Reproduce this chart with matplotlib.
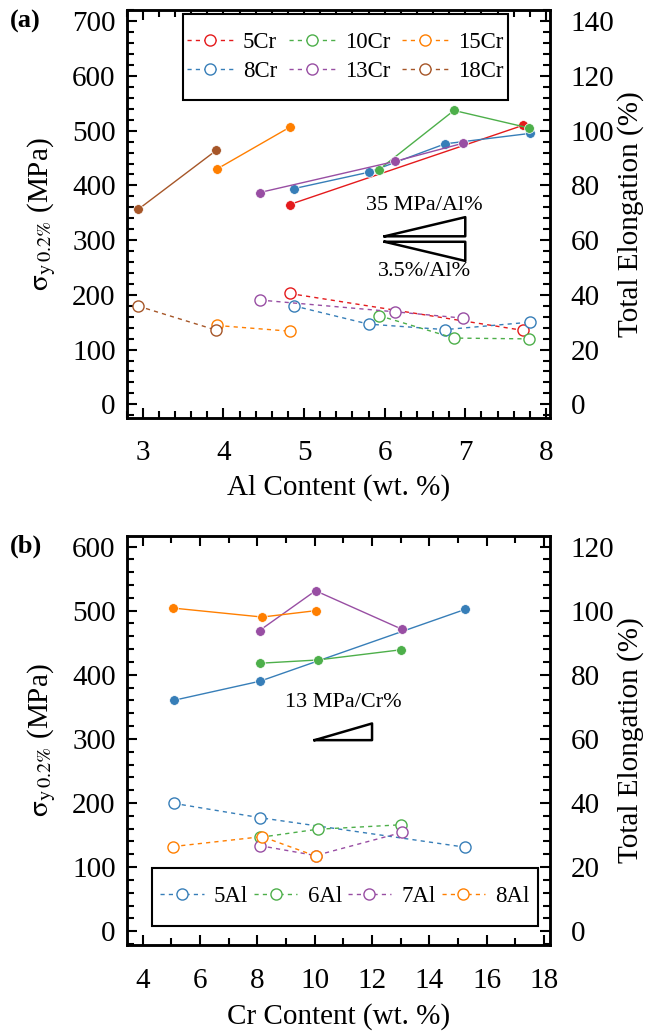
import numpy as np
import matplotlib
matplotlib.use("Agg")
import matplotlib.pyplot as plt
from matplotlib.ticker import MultipleLocator
from matplotlib.patches import Rectangle

plt.rcParams['font.family'] = ['Liberation Serif', 'DejaVu Serif']
plt.rcParams['mathtext.fontset'] = 'stix'

# ---- panel (a): vs Al content, one series per Cr level ----
cr_names = ['5Cr', '8Cr', '10Cr', '13Cr', '15Cr', '18Cr']
cr_colors = ['#e41a1c', '#377eb8', '#4daf4a', '#984ea3', '#ff7f00', '#a65628']
al_x = {
    '5Cr': [4.82, 7.72],
    '8Cr': [4.87, 5.80, 6.75, 7.80],
    '10Cr': [5.93, 6.86, 7.79],
    '13Cr': [4.45, 6.13, 6.97],
    '15Cr': [3.92, 4.83],
    '18Cr': [2.94, 3.91],
}
al_ys = {
    '5Cr': [365, 510],
    '8Cr': [394, 424, 476, 495],
    '10Cr': [429, 537, 505],
    '13Cr': [387, 444, 477],
    '15Cr': [430, 507],
    '18Cr': [356, 464],
}
al_el = {
    '5Cr': [40.5, 27.0],
    '8Cr': [36.0, 29.3, 27.3, 30.0],
    '10Cr': [32.4, 24.2, 23.9],
    '13Cr': [38.1, 33.8, 31.5],
    '15Cr': [28.8, 26.7],
    '18Cr': [35.9, 27.1],
}

# ---- panel (b): vs Cr content, one series per Al level ----
al_names = ['5Al', '6Al', '7Al', '8Al']
al_colors = ['#377eb8', '#4daf4a', '#984ea3', '#ff7f00']
cr_x = {
    '5Al': [5.08, 8.10, 15.25],
    '6Al': [8.11, 10.1, 13.02],
    '7Al': [8.08, 10.03, 13.04],
    '8Al': [5.06, 8.17, 10.05],
}
cr_ys = {
    '5Al': [360, 390, 502],
    '6Al': [418, 423, 439],
    '7Al': [469, 531, 471],
    '8Al': [504, 490, 500],
}
cr_el = {
    '5Al': [39.9, 35.4, 26.2],
    '6Al': [29.3, 31.8, 33.2],
    '7Al': [26.7, 23.6, 30.8],
    '8Al': [26.4, 29.5, 23.4],
}

FS = 21
dash = (0, (3, 3))


def style_axes(ax, ax2, xmaj, xmin, ymaj, ymin, y2maj, y2min):
    ax.xaxis.set_major_locator(MultipleLocator(xmaj))
    ax.xaxis.set_minor_locator(MultipleLocator(xmin))
    ax.yaxis.set_major_locator(MultipleLocator(ymaj))
    ax.yaxis.set_minor_locator(MultipleLocator(ymin))
    ax2.yaxis.set_major_locator(MultipleLocator(y2maj))
    ax2.yaxis.set_minor_locator(MultipleLocator(y2min))
    ax.tick_params(axis='x', which='both', direction='in', top=True, labelsize=FS, pad=16)
    ax.tick_params(axis='y', which='both', direction='in', right=False, labelsize=FS, pad=8)
    ax2.tick_params(axis='y', which='both', direction='in', labelsize=FS, pad=15)
    for a in (ax, ax2):
        a.tick_params(which='major', length=7, width=1.5)
        a.tick_params(which='minor', length=5, width=1.5)
        for s in a.spines.values():
            s.set_linewidth(1.8)


def boxed_legend(ax, handles, labels, rect, ncol, **kw):
    x0, y0, w, h = rect
    ax.add_patch(Rectangle((x0, y0), w, h, transform=ax.transAxes, facecolor='white',
                           edgecolor='black', lw=1.5, zorder=5, clip_on=False))
    leg = ax.legend(handles, labels, ncol=ncol, fontsize=16.5, loc='center',
                    bbox_to_anchor=(x0 + w / 2, y0 + h / 2), frameon=False, **kw)
    leg.set_zorder(6)
    return leg


fig = plt.figure(figsize=(6.5, 10.32), dpi=100)

# panel (a)
ax = fig.add_axes([0.195, 0.595, 0.651, 0.395])
ax2 = ax.twinx()
for name, c in zip(cr_names, cr_colors):
    ax.plot(al_x[name], al_ys[name], '-', color=c, lw=1.0, marker='o', ms=7,
            mec='white', mew=0.5)
    ax2.plot(al_x[name], al_el[name], linestyle=dash, color=c, lw=1.0, marker='o',
             ms=8, mfc='white', mec=c, mew=1.0, label=name)
ax.set_xlim(2.8, 8.05)
ax.set_ylim(-25, 720)
ax2.set_ylim(-5, 144)
style_axes(ax, ax2, 1, 0.2, 100, 20, 20, 4)
ax.set_xlabel('Al Content (wt. %)', fontsize=FS, labelpad=6)
ax.set_ylabel(r'$\mathrm{\sigma_{y\,0.2\%}}$ (MPa)', fontsize=FS, labelpad=10)
ax2.set_ylabel('Total Elongation (%)', fontsize=FS, labelpad=2)

# slope triangles
ax.plot([6, 7, 7, 6], [307, 342, 307, 307], color='black', lw=1.8)
ax.plot([6, 7, 7, 6], [297, 297, 262, 297], color='black', lw=1.8)
ax.text(6.49, 364, '35 MPa/Al%', fontsize=16, ha='center', va='center')
ax.text(6.49, 242, '3.5%/Al%', fontsize=16, ha='center', va='center')

h, l = ax2.get_legend_handles_labels()
boxed_legend(ax2, h, l, (0.132, 0.781, 0.768, 0.211), 3,
             handlelength=2.0, handletextpad=0.45, columnspacing=0.5,
             labelspacing=0.35)
fig.text(0.015, 0.979, '(a)', fontsize=19, fontweight='bold', ha='left', va='center')

# panel (b)
bx = fig.add_axes([0.195, 0.084, 0.651, 0.397])
bx2 = bx.twinx()
for name, c in zip(al_names, al_colors):
    bx.plot(cr_x[name], cr_ys[name], '-', color=c, lw=1.0, marker='o', ms=7,
            mec='white', mew=0.5)
    bx2.plot(cr_x[name], cr_el[name], linestyle=dash, color=c, lw=1.0, marker='o',
             ms=8, mfc='white', mec=c, mew=1.0, label=name)
bx.set_xlim(3.45, 18.2)
bx.set_ylim(-22, 617)
bx2.set_ylim(-4.4, 123.4)
style_axes(bx, bx2, 2, 1, 100, 20, 20, 4)
bx.set_xlabel('Cr Content (wt. %)', fontsize=FS, labelpad=7)
bx.set_ylabel(r'$\mathrm{\sigma_{y\,0.2\%}}$ (MPa)', fontsize=FS, labelpad=10)
bx2.set_ylabel('Total Elongation (%)', fontsize=FS, labelpad=2)

bx.plot([10, 12, 12, 10], [298, 324, 298, 298], color='black', lw=1.8)
bx.text(11.0, 357, '13 MPa/Cr%', fontsize=16, ha='center', va='center')

h, l = bx2.get_legend_handles_labels()
boxed_legend(bx2, h, l, (0.06, 0.047, 0.911, 0.142), 4,
             handlelength=1.9, handletextpad=0.45, columnspacing=0.25)
fig.text(0.015, 0.471, '(b)', fontsize=19, fontweight='bold', ha='left', va='center')

fig.savefig('out.png', dpi=100)
